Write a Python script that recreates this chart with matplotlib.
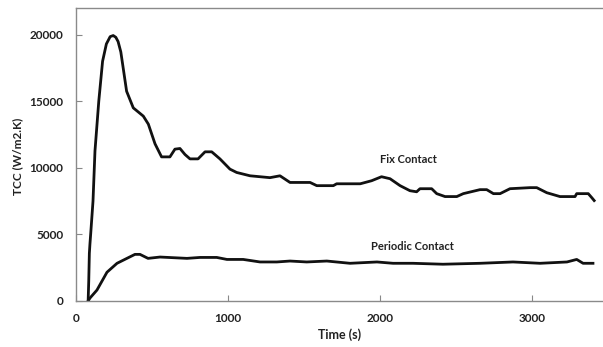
import matplotlib
matplotlib.use("Agg")
import matplotlib.pyplot as plt

# Thermal contact conductance vs time
fix_t = [80, 84, 88, 92, 97, 104, 112, 125, 150, 175, 200, 225, 245, 262, 277,
         295, 311, 333, 377, 443, 476, 520, 563, 618, 651, 684, 717, 750, 803,
         849, 893, 947, 1013, 1057, 1145, 1276, 1342, 1408, 1474, 1540, 1584,
         1693, 1715, 1870, 1945, 2010, 2066, 2132, 2197, 2241, 2263, 2340,
         2373, 2428, 2505, 2548, 2658, 2702, 2746, 2790, 2855, 2987, 3031,
         3097, 3184, 3283, 3294, 3370, 3393, 3409]
fix_v = [0, 1500, 3580, 4300, 5070, 6200, 7500, 11270, 15000, 18000, 19300,
         19850, 19930, 19800, 19480, 18700, 17460, 15750, 14500, 13880, 13280,
         11800, 10820, 10820, 11400, 11450, 11000, 10670, 10670, 11200, 11200,
         10670, 9900, 9650, 9400, 9260, 9400, 8900, 8900, 8900, 8660, 8660,
         8800, 8800, 9030, 9330, 9180, 8660, 8280, 8200, 8430, 8430, 8060,
         7840, 7840, 8060, 8360, 8360, 8060, 8060, 8430, 8510, 8510, 8130,
         7840, 7840, 8060, 8060, 7760, 7540]

per_t = [80, 92, 138, 204, 270, 335, 388, 421, 474, 553, 730, 816, 926, 993,
         1100, 1211, 1321, 1408, 1518, 1650, 1803, 1980, 2086, 2217, 2414,
         2658, 2875, 3053, 3230, 3294, 3336, 3401]
per_v = [0, 220, 820, 2160, 2830, 3200, 3500, 3500, 3200, 3300, 3200, 3270,
         3270, 3120, 3120, 2930, 2930, 3000, 2930, 3000, 2830, 2930, 2830,
         2830, 2760, 2830, 2930, 2830, 2930, 3120, 2830, 2830]

x_ticks = [0, 1000, 2000, 3000]
y_ticks = [0, 5000, 10000, 15000, 20000]

plt.rcParams['font.family'] = ['Lato', 'DejaVu Sans']

fig = plt.figure(figsize=(6.03, 3.47), dpi=100)
ax = fig.add_axes([0.126, 0.1326, 0.874, 0.8444])

ax.plot(fix_t, fix_v, color='#111111', lw=2.0, solid_joinstyle='round')
ax.plot(per_t, per_v, color='#111111', lw=2.0, solid_joinstyle='round')

ax.set_xlim(0, 3467)
ax.set_ylim(0, 22000)
ax.set_xticks(x_ticks)
ax.set_yticks(y_ticks)
ax.set_xticklabels([str(v) for v in x_ticks], fontweight='bold', fontsize=8.5, color='#222222')
ax.set_yticklabels([str(v) for v in y_ticks], fontweight='bold', fontsize=8.5, color='#222222')
ax.tick_params(axis='both', direction='in', length=4, width=0.8, color='#888888')
ax.tick_params(axis='x', pad=9)
ax.tick_params(axis='y', pad=9)

for side in ['left', 'bottom', 'top']:
    ax.spines[side].set_color('#8a8a8a')
    ax.spines[side].set_linewidth(1.0)
ax.spines['right'].set_visible(False)

ax.set_xlabel('Time (s)', fontweight='bold', fontsize=9, color='#222222', labelpad=3)
fig.text(0.030, 0.55, 'TCC (W/m2.K)', rotation=90, fontweight='bold', fontsize=8.5,
         color='#222222', ha='center', va='center')

ax.text(2000, 10600, 'Fix Contact', fontweight='bold', fontsize=8, color='#222222',
        ha='left', va='center')
ax.text(1940, 4120, 'Periodic Contact', fontweight='bold', fontsize=8, color='#222222',
        ha='left', va='center')

fig.savefig('out.png', dpi=100)
